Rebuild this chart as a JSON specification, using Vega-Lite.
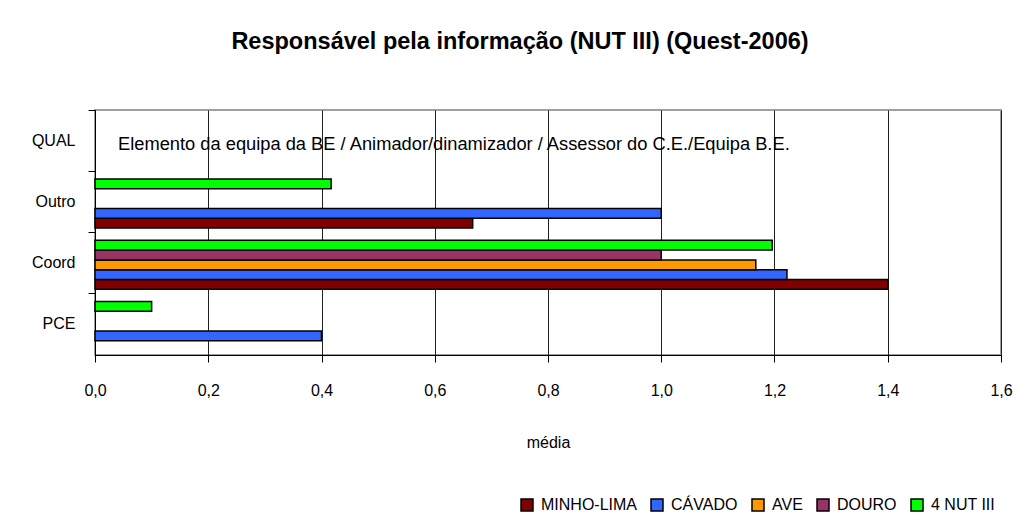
{
  "$schema": "https://vega.github.io/schema/vega-lite/v6.json",
  "width": 906,
  "height": 245,
  "autosize": {"type": "none"},
  "padding": {"left": 95, "top": 110, "right": 19, "bottom": 168},
  "background": "white",
  "title": {
    "text": "Responsável pela informação (NUT III) (Quest-2006)",
    "font": "Liberation Sans",
    "fontSize": 23.5,
    "fontWeight": "bold",
    "color": "black",
    "anchor": "middle",
    "frame": "group",
    "dx": -28,
    "baseline": "alphabetic",
    "offset": 37
  },
  "config": {
    "font": "Liberation Sans",
    "view": {"stroke": "#a0a0a0", "strokeWidth": 2},
    "axis": {"labelFont": "Liberation Sans", "titleFont": "Liberation Sans", "labelColor": "black", "titleColor": "black"}
  },
  "datasets": {
    "bars": [
      {"cat": "PCE", "serie": "CÁVADO", "media": 0.4},
      {"cat": "PCE", "serie": "4 NUT III", "media": 0.1},
      {"cat": "Coord", "serie": "MINHO-LIMA", "media": 1.4},
      {"cat": "Coord", "serie": "CÁVADO", "media": 1.222},
      {"cat": "Coord", "serie": "AVE", "media": 1.167},
      {"cat": "Coord", "serie": "DOURO", "media": 1.0},
      {"cat": "Coord", "serie": "4 NUT III", "media": 1.196},
      {"cat": "Outro", "serie": "MINHO-LIMA", "media": 0.667},
      {"cat": "Outro", "serie": "CÁVADO", "media": 1.0},
      {"cat": "Outro", "serie": "4 NUT III", "media": 0.417}
    ],
    "notes": [
      {"cat": "QUAL", "media": 0, "texto": "Elemento da equipa da BE / Animador/dinamizador / Assessor do C.E./Equipa B.E."}
    ]
  },
  "layer": [
    {
      "data": {"name": "bars"},
      "mark": {"type": "bar", "stroke": "black", "strokeWidth": 1.5},
      "encoding": {
        "y": {
          "field": "cat", "type": "nominal",
          "scale": {"domain": ["QUAL", "Outro", "Coord", "PCE"], "paddingInner": 0, "paddingOuter": 0},
          "axis": {
            "title": null,
            "bandPosition": 0,
            "labelFontSize": 16,
            "labelPadding": 13,
            "tickSize": 7,
            "tickColor": "black",
            "domainColor": "black",
            "labelAngle": 0
          }
        },
        "yOffset": {
          "field": "serie", "type": "nominal",
          "scale": {"domain": ["4 NUT III", "DOURO", "AVE", "CÁVADO", "MINHO-LIMA"], "paddingInner": 0, "paddingOuter": 0.62, "align": 0.64}
        },
        "x": {
          "field": "media", "type": "quantitative",
          "scale": {"domain": [0, 1.6], "nice": false, "zero": true},
          "axis": {
            "title": "média",
            "titleFontSize": 16,
            "titleFontWeight": "normal",
            "titlePadding": 36,
            "values": [0, 0.2, 0.4, 0.6, 0.8, 1.0, 1.2, 1.4, 1.6],
            "labelExpr": "replace(format(datum.value, '.1f'), '.', ',')",
            "labelFontSize": 16,
            "labelPadding": 20,
            "tickSize": 7,
            "tickColor": "black",
            "domainColor": "black",
            "grid": true,
            "gridColor": "#202020",
            "gridWidth": 1,
            "labelFlush": false
          }
        },
        "color": {
          "field": "serie", "type": "nominal",
          "scale": {
            "domain": ["MINHO-LIMA", "CÁVADO", "AVE", "DOURO", "4 NUT III"],
            "range": ["#800000", "#3366ff", "#ff9900", "#993366", "#00ff00"]
          },
          "legend": {
            "title": null,
            "orient": "none",
            "direction": "horizontal",
            "legendX": 424,
            "legendY": 387,
            "symbolType": "square",
            "symbolSize": 144,
            "symbolStrokeColor": "black",
            "symbolStrokeWidth": 1.5,
            "symbolOpacity": 1,
            "labelFontSize": 16,
            "labelColor": "black",
            "labelFont": "Liberation Sans",
            "columnPadding": 11,
            "labelOffset": 6
          }
        }
      }
    },
    {
      "data": {"name": "notes"},
      "mark": {"type": "text", "align": "left", "baseline": "middle", "dx": 23, "dy": 4, "fontSize": 18.3, "color": "black", "font": "Liberation Sans"},
      "encoding": {
        "y": {"field": "cat", "type": "nominal"},
        "x": {"field": "media", "type": "quantitative"},
        "text": {"field": "texto"}
      }
    }
  ]
}
